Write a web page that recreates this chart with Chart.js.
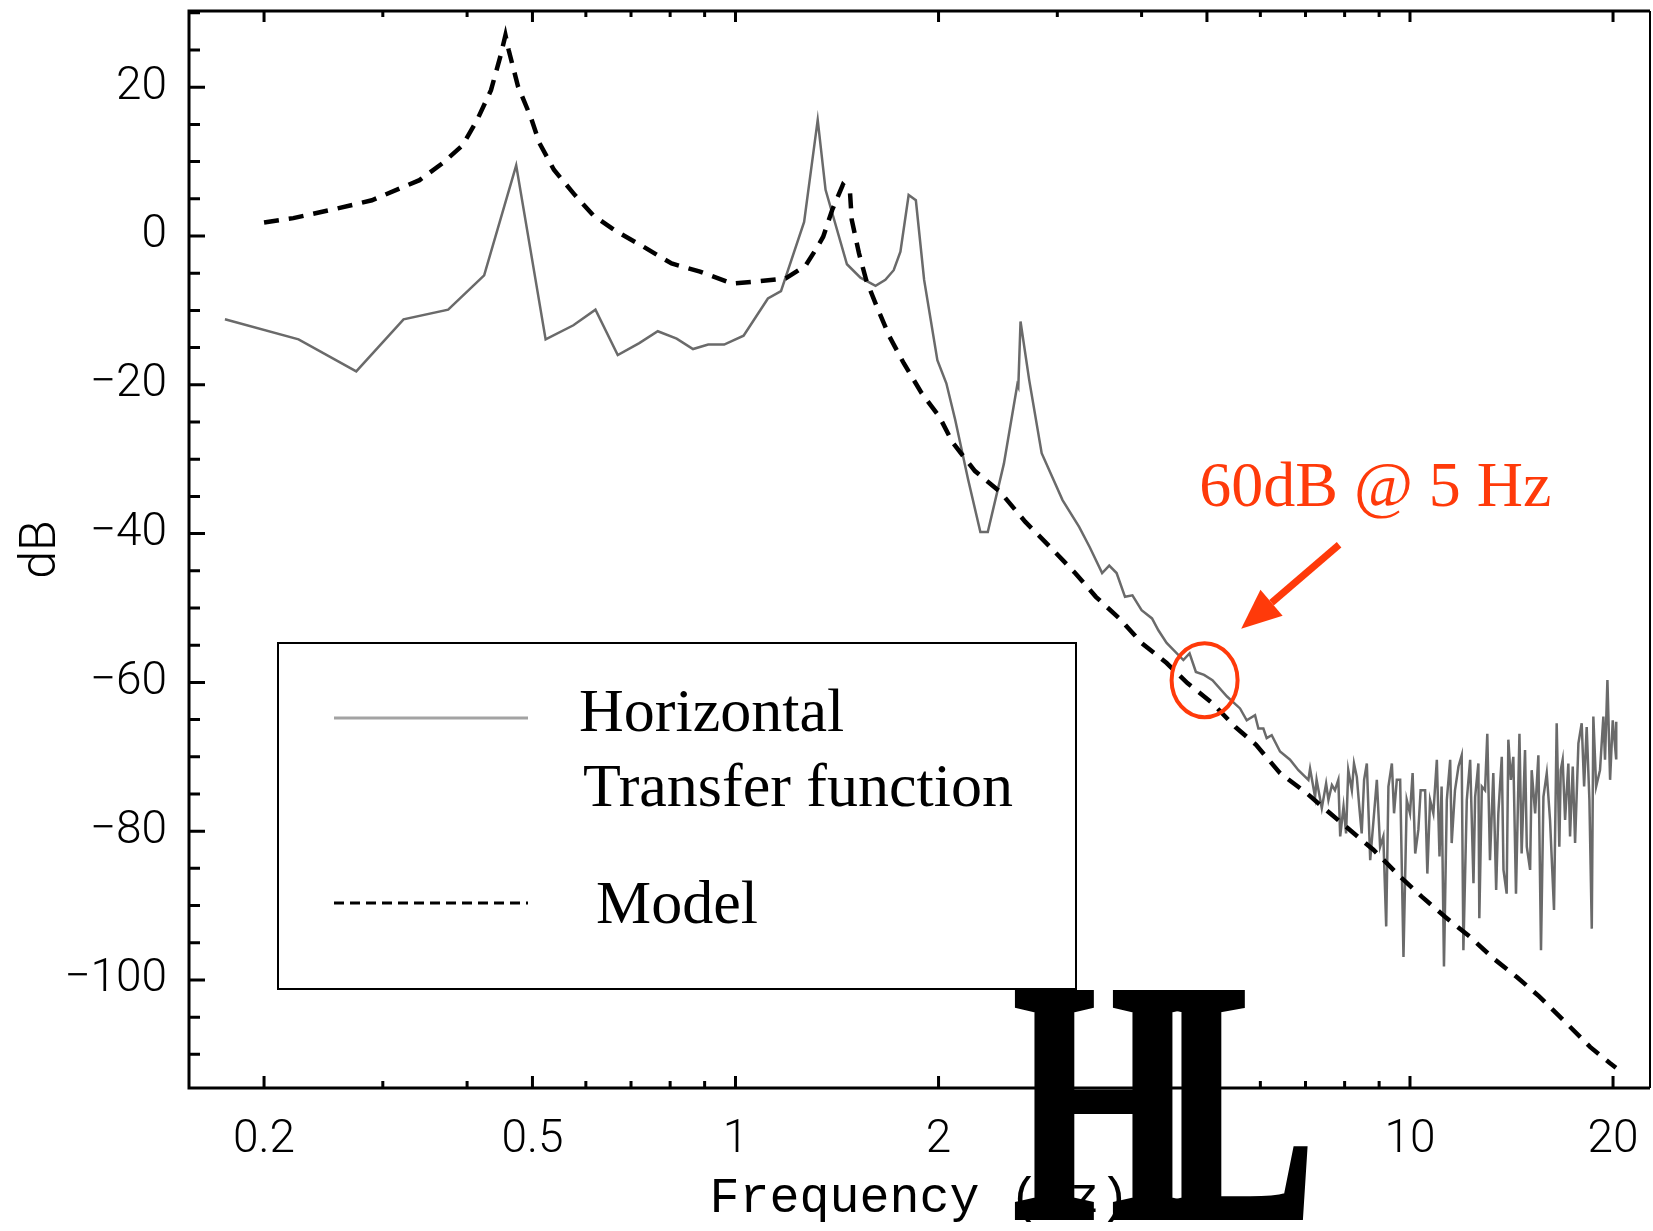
<!DOCTYPE html>
<html>
<head>
<meta charset="utf-8">
<title>Horizontal transfer function vs model</title>
<script src="https://cdn.jsdelivr.net/npm/chart.js@4/dist/chart.umd.min.js"></script>
<style>
  html, body { margin: 0; padding: 0; background: #fff; }
  #wrap { width: 1653px; height: 1231px; position: relative; }
</style>
</head>
<body>
<div id="wrap"><canvas id="bode"></canvas></div>
<script>
// measured transfer function (Hz, dB)
const tfFreq = [0.175, 0.225, 0.274, 0.322, 0.375, 0.424, 0.473, 0.523, 0.575, 0.620,
  0.669, 0.720, 0.767, 0.818, 0.865, 0.911, 0.962, 1.028, 1.117, 1.168,
  1.264, 1.324, 1.360, 1.463, 1.532, 1.613, 1.668, 1.716, 1.756, 1.806,
  1.851, 1.904, 1.992, 2.054, 2.117, 2.212, 2.307, 2.366, 2.50, 2.617,
  2.626, 2.646, 2.726, 2.844, 3.054, 3.232, 3.35, 3.496, 3.582, 3.673,
  3.780, 3.877, 4.0, 4.145, 4.236, 4.357, 4.613, 4.712, 4.815, 4.951,
  5.095, 5.355, 5.598, 5.727, 5.892, 5.960, 6.062, 6.131, 6.237, 6.417,
  6.640, 6.832, 7.069, 7.110, 7.232,
  7.27, 7.40, 7.51, 7.57, 7.66, 7.74, 7.83, 7.88, 7.97, 8.04,
  8.10, 8.20, 8.26, 8.34, 8.41, 8.48, 8.55, 8.63, 8.73, 8.83,
  8.93, 9.03, 9.13, 9.22, 9.29, 9.40, 9.47, 9.56, 9.67, 9.78,
  9.89, 10.00, 10.09, 10.18, 10.29, 10.37, 10.53, 10.61, 10.71, 10.83,
  10.96, 11.06, 11.14, 11.23, 11.34, 11.47, 11.53, 11.66, 11.80, 11.93,
  12.00, 12.14, 12.28, 12.42, 12.49, 12.63, 12.67, 12.78, 12.92, 13.02,
  13.14, 13.29, 13.42, 13.52, 13.68, 13.76, 13.91, 13.99, 14.11, 14.23,
  14.36, 14.53, 14.64, 14.81, 14.90, 15.07, 15.15, 15.33, 15.50, 15.64,
  15.77, 15.95, 16.13, 16.35, 16.50, 16.65, 16.73, 16.84, 16.98, 17.17,
  17.27, 17.43, 17.57, 17.77, 17.97, 18.12, 18.28, 18.45, 18.60, 18.70,
  18.88, 19.13, 19.35, 19.46, 19.62, 19.80, 19.98, 20.21, 20.22];
const tfDb = [-11.2, -13.9, -18.2, -11.2, -9.9, -5.3, 9.5, -13.9, -12.0, -9.9,
  -16.0, -14.4, -12.8, -13.8, -15.2, -14.6, -14.6, -13.4, -8.4, -7.4,
  1.9, 15.6, 6.2, -3.8, -5.6, -6.7, -5.9, -4.6, -2.1, 5.5,
  4.8, -5.9, -16.7, -19.8, -24.7, -32.7, -39.8, -39.8, -30.6, -20.0,
  -20.3, -11.5, -19.4, -29.2, -35.5, -39.1, -41.8, -45.3, -44.3, -45.3,
  -48.5, -48.3, -50.3, -51.4, -53.0, -54.7, -57.0, -56.1, -58.6, -59.0,
  -59.7, -61.9, -63.5, -65.1, -64.4, -66.2, -66.2, -67.5, -67.1, -69.3,
  -70.4, -71.8, -73.1, -71.6, -75.4,
  -73.1, -76.9, -73.6, -75.8, -73.8, -74.5, -73.1, -80.7, -76.7, -80.3,
  -71.8, -74.5, -70.9, -72.7, -76.7, -80.3, -73.1, -70.9, -83.9, -78.5,
  -73.1, -82.1, -80.7, -92.8, -74.0, -70.9, -77.6, -73.1, -73.1, -96.9,
  -75.8, -77.6, -72.2, -83.0, -79.8, -74.5, -74.5, -85.7, -75.8, -77.6,
  -70.4, -83.4, -74.0, -98.2, -75.8, -70.4, -81.6, -74.5, -71.3, -69.8,
  -96.0, -75.8, -70.4, -87.0, -75.4, -70.9, -91.7, -74.0, -74.5, -66.9,
  -83.9, -72.2, -87.9, -77.6, -70.0, -85.2, -88.4, -67.7, -73.1, -70.0,
  -88.4, -66.9, -83.0, -69.1, -82.1, -85.2, -71.8, -77.6, -69.8, -96.0,
  -75.4, -72.2, -78.5, -90.6, -65.5, -82.1, -71.8, -70.4, -78.5, -70.9,
  -80.7, -71.3, -81.6, -68.2, -65.5, -74.0, -66.0, -75.8, -93.1, -64.6,
  -74.0, -71.8, -64.6, -70.4, -59.7, -73.1, -65.1, -70.2, -65.3];

// model curve (Hz, dB)
const modelFreq = [0.200, 0.221, 0.257, 0.289, 0.340, 0.368, 0.394, 0.414, 0.434, 0.448,
  0.456, 0.461, 0.476, 0.497, 0.512, 0.538, 0.578, 0.615, 0.661, 0.729,
  0.804, 0.886, 0.989, 1.077, 1.187, 1.270, 1.324, 1.349, 1.391, 1.443,
  1.478, 1.487, 1.524, 1.562, 1.620, 1.691, 1.776, 1.887, 2.006, 2.10,
  2.265, 2.468, 2.688, 2.927, 3.188, 3.422, 3.727, 4.0, 4.357, 4.677,
  5.095, 5.51, 5.913, 6.417, 7.029, 7.612, 8.825, 9.666, 10.41, 11.27,
  12.275, 13.294, 14.4, 15.54, 17.95, 18.49, 19.8, 20.2];
const modelDb = [1.8, 2.4, 3.7, 4.8, 7.5, 9.8, 12.2, 15.6, 19.6, 24.1,
  27.0, 25.0, 20.1, 16.0, 12.5, 8.9, 5.5, 2.8, 0.8, -1.4,
  -3.7, -4.8, -6.4, -6.1, -5.7, -4.0, -1.4, -0.1, 3.5, 6.9,
  6.0, 2.2, -2.3, -5.9, -9.5, -13.5, -17.1, -21.1, -24.3, -27.8,
  -31.6, -34.4, -38.4, -41.8, -45.3, -48.5, -51.6, -54.7, -57.4, -60.1,
  -62.8, -66.0, -68.4, -72.2, -74.9, -77.6, -82.5, -86.1, -88.8, -91.5,
  -94.2, -97.1, -99.6, -102.2, -107.8, -109.0, -111.2, -111.8];

const xTickValues = [0.2, 0.5, 1, 2, 5, 10, 20];
const xMinorTicks = [0.3, 0.4, 0.6, 0.7, 0.8, 0.9, 3, 4, 6, 7, 8, 9];
const yTickValues = [20, 0, -20, -40, -60, -80, -100];
const yMinorTicks = [30, 25, 15, 10, 5, -5, -10, -15, -25, -30, -35, -45, -50, -55,
  -65, -70, -75, -85, -90, -95, -105, -110];

const seriesNames = ['Horizontal\nTransfer function', 'Model'];
const note = '60dB @ 5 Hz';
const noteAt = [4.87, -36.3];     // text anchor
const circleAt = [4.96, -59.7];   // highlighted point
const arrowFrom = [7.85, -41.5];
const arrowTo = [5.62, -52.8];

const RED = '#ff3a0a';
const SANS = 'Roboto, "Liberation Sans", sans-serif';
const SERIF = '"Liberation Serif", "DejaVu Serif", serif';

const decor = {
  id: 'decor',
  afterDraw(chart) {
    const { ctx, chartArea: a, scales: { x, y } } = chart;
    ctx.save();

    // frame
    ctx.strokeStyle = '#000';
    ctx.lineWidth = 3;
    ctx.beginPath();
    ctx.moveTo(a.right, a.top); ctx.lineTo(a.left, a.top);
    ctx.lineTo(a.left, a.bottom); ctx.lineTo(a.right, a.bottom);
    ctx.stroke();
    ctx.lineWidth = 2;
    ctx.beginPath();
    ctx.moveTo(a.right, a.top); ctx.lineTo(a.right, a.bottom);
    ctx.stroke();

    // inward ticks
    ctx.lineWidth = 3;
    ctx.beginPath();
    xTickValues.forEach(v => {
      const px = x.getPixelForValue(v);
      ctx.moveTo(px, a.bottom); ctx.lineTo(px, a.bottom - 12);
      ctx.moveTo(px, a.top); ctx.lineTo(px, a.top + 11);
    });
    xMinorTicks.forEach(v => {
      const px = x.getPixelForValue(v);
      ctx.moveTo(px, a.bottom); ctx.lineTo(px, a.bottom - 7);
      ctx.moveTo(px, a.top); ctx.lineTo(px, a.top + 6);
    });
    yTickValues.forEach(v => {
      const py = y.getPixelForValue(v);
      ctx.moveTo(a.left, py); ctx.lineTo(a.left + 16, py);
    });
    yMinorTicks.forEach(v => {
      const py = y.getPixelForValue(v);
      ctx.moveTo(a.left, py); ctx.lineTo(a.left + 11, py);
    });
    ctx.stroke();

    // legend box
    ctx.lineWidth = 2;
    ctx.strokeStyle = '#000';
    ctx.fillStyle = '#fff';
    ctx.fillRect(278, 643, 798, 346);
    ctx.strokeRect(278, 643, 798, 346);

    ctx.lineWidth = 3;
    ctx.strokeStyle = '#a3a3a3';
    ctx.beginPath(); ctx.moveTo(334, 718); ctx.lineTo(528, 718); ctx.stroke();
    ctx.strokeStyle = '#000';
    ctx.setLineDash([10, 6]);
    ctx.beginPath(); ctx.moveTo(334, 903); ctx.lineTo(528, 903); ctx.stroke();
    ctx.setLineDash([]);

    ctx.fillStyle = '#000';
    ctx.font = '62px ' + SERIF;
    ctx.textAlign = 'left';
    ctx.textBaseline = 'alphabetic';
    const tfLines = seriesNames[0].split('\n');
    ctx.fillText(tfLines[0], 579, 731);
    ctx.fillText(tfLines[1], 583, 806);
    ctx.fillText(seriesNames[1], 596, 923);

    // annotation
    ctx.fillStyle = RED;
    ctx.strokeStyle = RED;
    ctx.font = '64px ' + SERIF;
    ctx.fillText(note, x.getPixelForValue(noteAt[0]), y.getPixelForValue(noteAt[1]));

    ctx.lineWidth = 4;
    ctx.beginPath();
    ctx.ellipse(x.getPixelForValue(circleAt[0]), y.getPixelForValue(circleAt[1]), 33, 37, 0, 0, Math.PI * 2);
    ctx.stroke();

    const x0 = x.getPixelForValue(arrowFrom[0]), y0 = y.getPixelForValue(arrowFrom[1]);
    const x1 = x.getPixelForValue(arrowTo[0]), y1 = y.getPixelForValue(arrowTo[1]);
    const ang = Math.atan2(y1 - y0, x1 - x0);
    const headLen = 40, headHalf = 17;
    const bx = x1 - headLen * Math.cos(ang), by = y1 - headLen * Math.sin(ang);
    ctx.lineWidth = 7;
    ctx.beginPath(); ctx.moveTo(x0, y0); ctx.lineTo(bx, by); ctx.stroke();
    ctx.beginPath();
    ctx.moveTo(x1, y1);
    ctx.lineTo(bx + headHalf * Math.sin(ang), by - headHalf * Math.cos(ang));
    ctx.lineTo(bx - headHalf * Math.sin(ang), by + headHalf * Math.cos(ang));
    ctx.closePath();
    ctx.fill();

    // HL logo stamped over the axis
    ctx.fillStyle = '#000';
    ctx.strokeStyle = '#000';
    ctx.lineWidth = 6;
    ctx.lineJoin = 'miter';
    ctx.font = 'bold 342px ' + SERIF;
    ctx.translate(1013, 1217);
    ctx.scale(0.68, 1);
    const lx = (1160 - 1013) / 0.68;
    ctx.fillText('H', 0, 0);
    ctx.strokeText('H', 0, 0);
    ctx.fillText('L', lx, 0);
    ctx.strokeText('L', lx, 0);

    ctx.restore();
  }
};

new Chart(document.getElementById('bode'), {
  type: 'line',
  data: {
    datasets: [
      {
        label: 'Model',
        data: modelFreq.map((f, i) => ({ x: f, y: modelDb[i] })),
        borderColor: '#000',
        borderWidth: 4.5,
        borderDash: [15, 10],
        pointRadius: 0,
        tension: 0
      },
      {
        label: 'Horizontal Transfer function',
        data: tfFreq.map((f, i) => ({ x: f, y: tfDb[i] })),
        borderColor: '#6a6a6a',
        borderWidth: 2.5,
        pointRadius: 0,
        tension: 0
      }
    ]
  },
  options: {
    responsive: true,
    maintainAspectRatio: false,
    animation: false,
    devicePixelRatio: 1,
    layout: { padding: { left: 0, right: 3, top: 11, bottom: 0 } },
    plugins: { legend: { display: false }, tooltip: { enabled: false } },
    scales: {
      x: {
        type: 'logarithmic',
        min: 0.1548,
        max: 22.69,
        grid: { display: false, drawTicks: false },
        border: { display: false },
        afterBuildTicks: s => { s.ticks = xTickValues.map(v => ({ value: v })); },
        afterFit: s => { s.height = 143; s.paddingLeft = 0; s.paddingRight = 0; },
        ticks: {
          autoSkip: false,
          maxRotation: 0,
          padding: 25,
          color: '#000',
          font: { family: SANS, size: 46, weight: '300' },
          callback: v => String(v)
        },
        title: {
          display: true,
          text: 'Frequency (Hz)',
          color: '#000',
          font: { family: '"Liberation Mono", "Courier New", monospace', size: 50 },
          padding: { top: 0, bottom: 2 }
        }
      },
      y: {
        min: -114.52,
        max: 30.24,
        grid: { display: false, drawTicks: false },
        border: { display: false },
        afterBuildTicks: s => { s.ticks = yTickValues.map(v => ({ value: v })); },
        afterFit: s => { s.width = 189; s.paddingTop = 0; s.paddingBottom = 0; },
        ticks: {
          padding: 22,
          color: '#000',
          font: { family: SANS, size: 46, weight: '300' },
          callback: v => (v < 0 ? '\u2212' + Math.abs(v) : String(v))
        },
        title: {
          display: true,
          text: 'dB',
          color: '#000',
          font: { family: SANS, size: 50, weight: '300' },
          padding: { top: 12, bottom: 0 }
        }
      }
    }
  },
  plugins: [decor]
});
</script>
</body>
</html>
